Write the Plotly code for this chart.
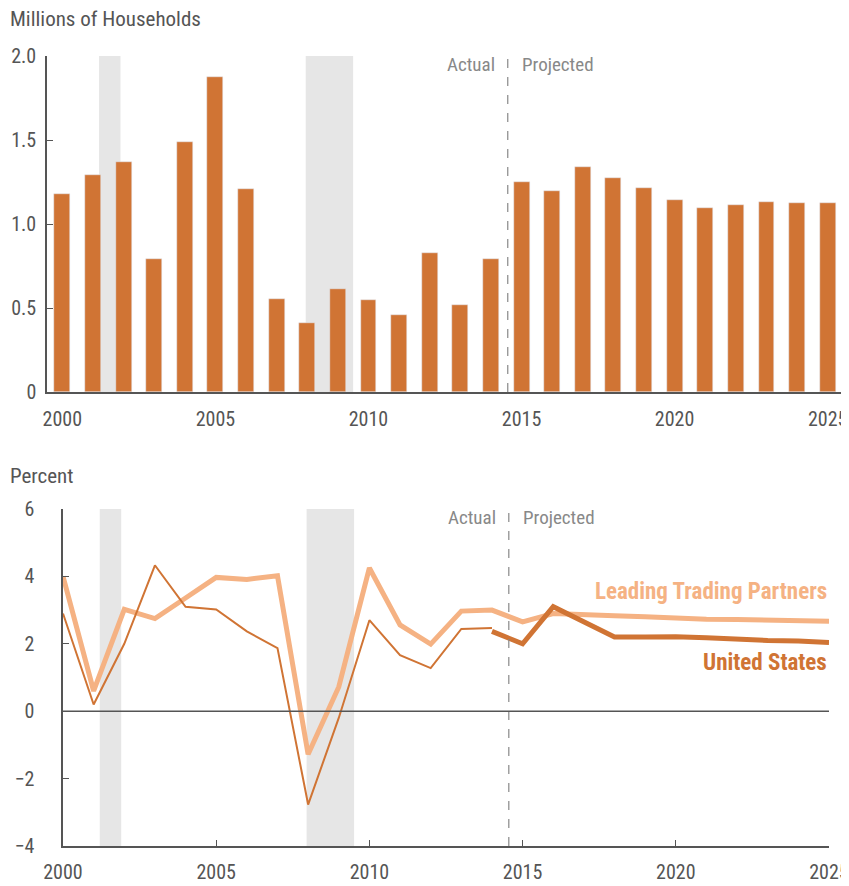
import plotly.graph_objects as go

years = list(range(2000, 2026))
households = [1.18, 1.29, 1.37, 0.79, 1.49, 1.875, 1.21, 0.555, 0.41, 0.615,
              0.545, 0.46, 0.83, 0.52, 0.79, 1.25, 1.195, 1.34, 1.275, 1.215,
              1.145, 1.095, 1.115, 1.13, 1.125, 1.125]

actual_years = list(range(2000, 2015))
us_actual = [2.9, 0.2, 2.0, 4.33, 3.1, 3.02, 2.37, 1.87, -2.77, -0.2,
             2.7, 1.66, 1.28, 2.44, 2.47]
proj_years = list(range(2014, 2026))
us_proj = [2.37, 2.0, 3.1, 2.64, 2.2, 2.2, 2.21, 2.18, 2.13, 2.1, 2.08, 2.04]
ltp = [4.0, 0.6, 3.02, 2.75, 3.36, 3.97, 3.91, 4.02, -1.28, 0.72,
       4.25, 2.56, 1.99, 2.97, 3.0, 2.65, 2.9, 2.85, 2.83, 2.8,
       2.75, 2.73, 2.72, 2.7, 2.68, 2.67]

recessions = [(2001.2, 2001.9), (2007.95, 2009.5)]
split_year = 2014.55

DARK = "#D07434"
LIGHT = "#F5B283"
GRAY = "#E6E6E6"
AXIS = "#555555"
FONT = "Liberation Sans Narrow, Roboto Condensed, Roboto, sans-serif"

# page has an 8px body margin; figure is offset by it
OFF = 8
W, H = 849 - OFF, 886 - OFF


def px(x):
    return (x - OFF) / W


def py(y):
    return 1 - (y - OFF) / H


fig = go.Figure()
fig.add_trace(go.Bar(x=years, y=households, marker_color=DARK, width=0.52,
                     xaxis="x", yaxis="y", showlegend=False))
fig.add_trace(go.Scatter(x=years, y=ltp, mode="lines",
                         line=dict(color=LIGHT, width=5),
                         xaxis="x2", yaxis="y2", showlegend=False))
fig.add_trace(go.Scatter(x=actual_years, y=us_actual, mode="lines",
                         line=dict(color=DARK, width=2),
                         xaxis="x2", yaxis="y2", showlegend=False))
fig.add_trace(go.Scatter(x=proj_years, y=us_proj, mode="lines",
                         line=dict(color=DARK, width=5),
                         xaxis="x2", yaxis="y2", showlegend=False))

shapes = []
for (a, b) in recessions:
    shapes.append(dict(type="rect", xref="x", yref="y", x0=a, x1=b, y0=0, y1=2.0,
                       fillcolor=GRAY, line_width=0, layer="below"))
    shapes.append(dict(type="rect", xref="x2", yref="y2", x0=a, x1=b, y0=-4, y1=6,
                       fillcolor=GRAY, line_width=0, layer="below"))
shapes.append(dict(type="line", xref="x", yref="y", x0=split_year, x1=split_year,
                   y0=0, y1=2.0, line=dict(color="#888888", width=1.2, dash="dash")))
shapes.append(dict(type="line", xref="x2", yref="y2", x0=split_year, x1=split_year,
                   y0=-4, y1=6, line=dict(color="#888888", width=1.2, dash="dash")))
shapes.append(dict(type="line", xref="x2 domain", yref="y2", x0=0, x1=1,
                   y0=0, y1=0, line=dict(color=AXIS, width=1.5)))

ann = []
for yref, yv in [("y", 1.95), ("y2", 5.75)]:
    xr = "x" if yref == "y" else "x2"
    ann.append(dict(x=split_year, y=yv, xref=xr, yref=yref, text="Actual",
                    showarrow=False, xanchor="right", xshift=-11, yanchor="middle",
                    font=dict(family=FONT, size=19, color="#888888")))
    ann.append(dict(x=split_year, y=yv, xref=xr, yref=yref, text="Projected",
                    showarrow=False, xanchor="left", xshift=12, yanchor="middle",
                    font=dict(family=FONT, size=19, color="#888888")))
ann.append(dict(x=2024.85, y=3.55, xref="x2", yref="y2", text="<b>Leading Trading Partners</b>",
                showarrow=False, xanchor="right", xshift=5, yanchor="middle",
                font=dict(family=FONT, size=23, color=LIGHT)))
ann.append(dict(x=2024.85, y=1.45, xref="x2", yref="y2", text="<b>United States</b>",
                showarrow=False, xanchor="right", xshift=5, yanchor="middle",
                font=dict(family=FONT, size=23, color=DARK)))
ann.append(dict(x=px(8), y=py(19), xref="paper", yref="paper", text="Millions of Households",
                showarrow=False, xanchor="left", yanchor="middle",
                font=dict(family=FONT, size=21, color=AXIS)))
ann.append(dict(x=px(8), y=py(476), xref="paper", yref="paper", text="Percent",
                showarrow=False, xanchor="left", yanchor="middle",
                font=dict(family=FONT, size=21, color=AXIS)))

tickfont = dict(family=FONT, size=20, color=AXIS)
xticks = [2000, 2005, 2010, 2015, 2020, 2025]

fig.update_layout(
    width=W, height=H,
    margin=dict(l=0, r=0, t=0, b=0, autoexpand=False),
    plot_bgcolor="white", paper_bgcolor="white",
    bargap=0,
    shapes=shapes, annotations=ann,
    xaxis=dict(domain=[px(47), px(843)], range=[1999.5, 2025.5], anchor="y",
               tickvals=xticks, ticks="", showgrid=False, zeroline=False, automargin=False,
               showline=True, linecolor=AXIS, linewidth=1.5, tickfont=tickfont,
               ticklabelstandoff=8),
    yaxis=dict(domain=[py(392), py(56)], range=[0, 2.0], anchor="x",
               tickvals=[0, 0.5, 1.0, 1.5, 2.0], ticktext=["0", "0.5", "1.0", "1.5", "2.0"],
               ticks="inside", ticklen=6, tickcolor=AXIS, showgrid=False, zeroline=False,
               automargin=False,
               showline=True, linecolor=AXIS, linewidth=1.5, tickfont=tickfont,
               ticklabelstandoff=5),
    xaxis2=dict(domain=[px(63), px(829)], range=[2000, 2025], anchor="y2",
                tickvals=xticks, ticks="inside", ticklen=6, tickcolor=AXIS,
                showgrid=False, zeroline=False, automargin=False,
                showline=True, linecolor=AXIS, linewidth=1.5, tickfont=tickfont,
                ticklabelstandoff=7),
    yaxis2=dict(domain=[py(846), py(509)], range=[-4, 6], anchor="x2",
                tickvals=[-4, -2, 0, 2, 4, 6],
                ticks="inside", ticklen=6, tickcolor=AXIS, showgrid=False, zeroline=False,
                automargin=False,
                showline=True, linecolor=AXIS, linewidth=1.5, tickfont=tickfont,
                ticklabelstandoff=23),
)

fig.write_html("out.html")
